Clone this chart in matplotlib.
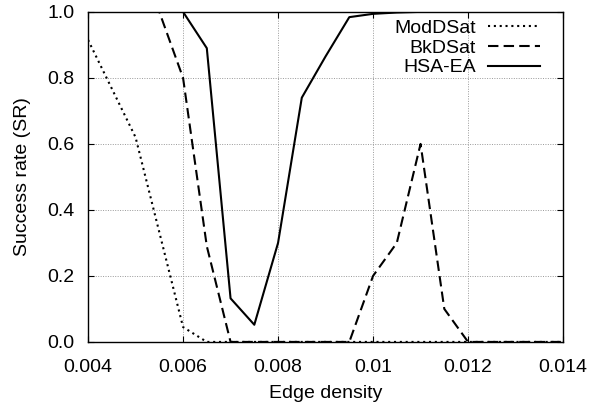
import matplotlib
matplotlib.use("Agg")
import matplotlib.pyplot as plt

plt.rcParams['font.family'] = ['Liberation Sans', 'DejaVu Sans']

mod_x = [0.004, 0.005, 0.006, 0.0065, 0.007, 0.0075, 0.008, 0.0085, 0.009, 0.0095, 0.01, 0.0105, 0.011, 0.0115, 0.012, 0.0125, 0.013, 0.0135, 0.014]
mod_y = [0.915, 0.62, 0.045, 0.0, 0, 0, 0, 0, 0, 0, 0, 0, 0, 0, 0, 0, 0, 0, 0]

bk_x = [0.004, 0.0045, 0.005, 0.0055, 0.006, 0.0065, 0.007, 0.0075, 0.008, 0.0085, 0.009, 0.0095, 0.01, 0.0105, 0.011, 0.0115, 0.012, 0.0125, 0.013, 0.0135, 0.014]
bk_y = [1.0, 1.0, 1.0, 1.0, 0.8, 0.29, 0.0, 0, 0, 0, 0, 0.0, 0.2, 0.3, 0.6, 0.1, 0.0, 0, 0, 0, 0]

hsa_x = [0.004, 0.0045, 0.005, 0.0055, 0.006, 0.0065, 0.007, 0.0075, 0.008, 0.0085, 0.009, 0.0095, 0.01, 0.0105, 0.011, 0.0115, 0.012, 0.0125, 0.013, 0.0135, 0.014]
hsa_y = [1.0, 1.0, 1.0, 1.0, 1.0, 0.89, 0.132, 0.052, 0.30, 0.74, 0.865, 0.984, 0.994, 0.998, 1.0, 1.0, 1.0, 1.0, 1.0, 1.0, 1.0]

xticks = [0.004, 0.006, 0.008, 0.01, 0.012, 0.014]
xtick_labels = ['0.004', '0.006', '0.008', '0.01', '0.012', '0.014']
yticks = [0.0, 0.2, 0.4, 0.6, 0.8, 1.0]
ytick_labels = ['0.0', '0.2', '0.4', '0.6', '0.8', '1.0']

fig = plt.figure(figsize=(5.99, 4.09), dpi=100)
ax = fig.add_axes([0.147, 0.164, 0.793, 0.807])

ax.plot(mod_x, mod_y, color='black', lw=1.5, linestyle=(0, (1, 1.8)), label='ModDSat')
ax.plot(bk_x, bk_y, color='black', lw=1.5, linestyle=(0, (5, 2.5)), label='BkDSat')
ax.plot(hsa_x, hsa_y, color='black', lw=1.5, linestyle='-', label='HSA-EA')

ax.set_xlim(0.004, 0.014)
ax.set_ylim(0.0, 1.0)
ax.set_xticks(xticks)
ax.set_xticklabels(xtick_labels)
ax.set_yticks(yticks)
ax.set_yticklabels(ytick_labels)
ax.tick_params(direction='in', top=True, right=True, labelsize=14, length=4, width=0.8)
ax.tick_params(axis='y', pad=9.5)
ax.tick_params(axis='x', pad=12)
ax.grid(True, color='#999999', linestyle=(0, (1, 1.5)), linewidth=0.7)
for s in ax.spines.values():
    s.set_linewidth(1.0)

ax.set_xlabel('Edge density', fontsize=14, labelpad=7)
ax.set_ylabel('Success rate (SR)', fontsize=14, labelpad=12)

leg = ax.legend(loc='upper right', bbox_to_anchor=(0.968, 1.0), frameon=False,
                markerfirst=False, fontsize=14, handlelength=2.7, labelspacing=0.1,
                borderaxespad=0.0, borderpad=0.4, handletextpad=0.6)
for t in leg.get_texts():
    t.set_ha('right')

fig.savefig('out.png', dpi=100)
